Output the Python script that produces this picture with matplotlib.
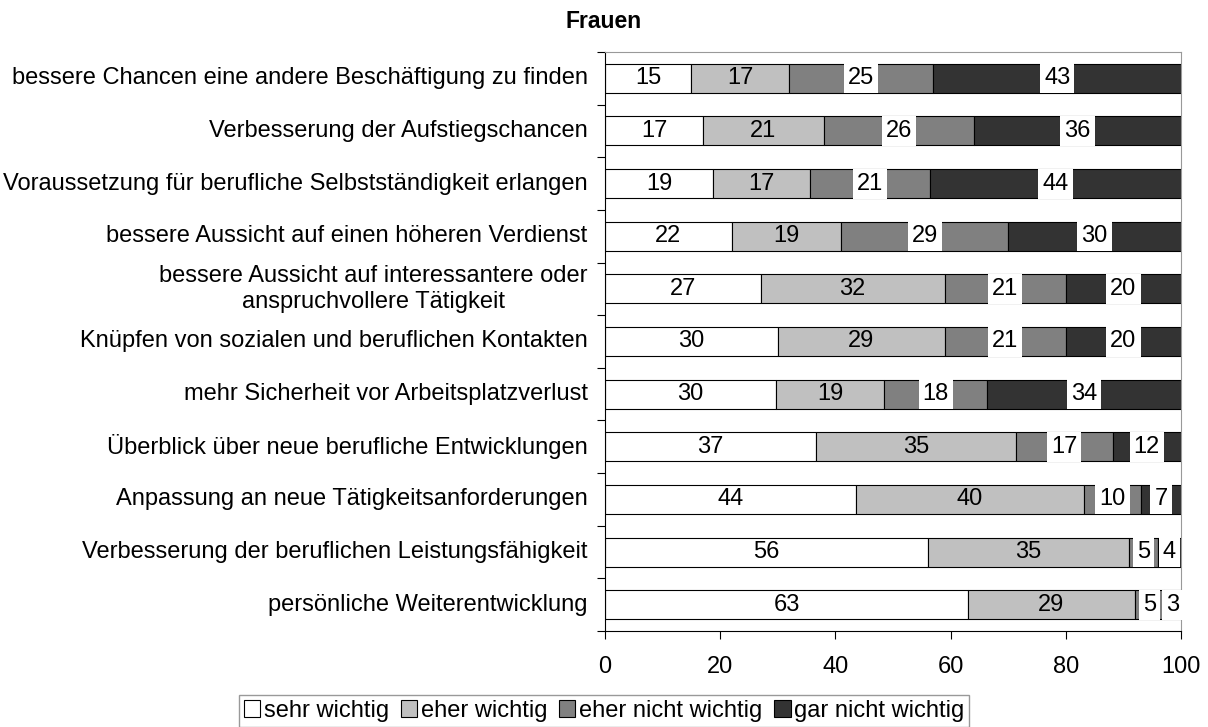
import numpy as np
import matplotlib
matplotlib.use("Agg")
import matplotlib.pyplot as plt

plt.rcParams["font.family"] = ["Liberation Sans", "DejaVu Sans"]

# Daten
kategorien = [
    "bessere Chancen eine andere Beschäftigung zu finden",
    "Verbesserung der Aufstiegschancen",
    "Voraussetzung für berufliche Selbstständigkeit erlangen",
    "bessere Aussicht auf einen höheren Verdienst",
    "bessere Aussicht auf interessantere oder\nanspruchvollere Tätigkeit",
    "Knüpfen von sozialen und beruflichen Kontakten",
    "mehr Sicherheit vor Arbeitsplatzverlust",
    "Überblick über neue berufliche Entwicklungen",
    "Anpassung an neue Tätigkeitsanforderungen",
    "Verbesserung der beruflichen Leistungsfähigkeit",
    "persönliche Weiterentwicklung",
]
sehr_wichtig = [15, 17, 19, 22, 27, 30, 30, 37, 44, 56, 63]
eher_wichtig = [17, 21, 17, 19, 32, 29, 19, 35, 40, 35, 29]
eher_nicht_wichtig = [25, 26, 21, 29, 21, 21, 18, 17, 10, 5, 5]
gar_nicht_wichtig = [43, 36, 44, 30, 20, 20, 34, 12, 7, 4, 3]

serien = ["sehr wichtig", "eher wichtig", "eher nicht wichtig", "gar nicht wichtig"]
farben = ["#FFFFFF", "#C0C0C0", "#808080", "#333333"]

werte = np.array([sehr_wichtig, eher_wichtig, eher_nicht_wichtig, gar_nicht_wichtig], dtype=float)
anteile = werte / werte.sum(axis=0) * 100  # 100%-Balken

fs = 17

fig = plt.figure(figsize=(12.08, 7.27), dpi=100)
ax = fig.add_axes([605 / 1208, 1 - 631 / 727, 576 / 1208, 579 / 727])

y = np.arange(len(kategorien))
links = np.zeros(len(kategorien))
for i, (name, farbe) in enumerate(zip(serien, farben)):
    ax.barh(y, anteile[i], left=links, height=0.55, color=farbe,
            edgecolor="black", linewidth=0.8, label=name)
    for j in range(len(kategorien)):
        xm = links[j] + anteile[i][j] / 2
        if i < 2:
            ax.text(xm, y[j], "%d" % werte[i][j], ha="center", va="center", fontsize=fs)
        else:
            ax.text(xm, y[j], "%d" % werte[i][j], ha="center", va="center", fontsize=fs,
                    bbox=dict(boxstyle="square,pad=0.17", fc="white", ec="none"))
    links += anteile[i]

ax.set_xlim(0, 100)
ax.set_ylim(len(kategorien) - 0.5, -0.5)
ax.set_xticks(np.arange(0, 101, 20))
ax.tick_params(axis="x", labelsize=fs, length=6, direction="out", pad=12)
ax.set_yticks(np.arange(len(kategorien) + 1) - 0.5)
ax.set_yticklabels([])
ax.tick_params(axis="y", length=6, direction="out")

for s in ["top", "right"]:
    ax.spines[s].set_color("#999999")
for s in ["left", "bottom"]:
    ax.spines[s].set_color("black")

# Kategorien-Beschriftung
for j, kat in enumerate(kategorien):
    ax.text(-0.03, j, kat, transform=ax.get_yaxis_transform(), ha="right", va="center",
            multialignment="center", fontsize=fs)

fig.text(0.5, 1 - 22 / 727, "Frauen", ha="center", va="center", fontsize=16.5, fontweight="bold")

leg = fig.legend(loc="center", bbox_to_anchor=(0.5, 1 - 711 / 727), ncol=4, fontsize=fs,
                 frameon=True, fancybox=False, handlelength=0.7, handleheight=0.7,
                 handletextpad=0.15, columnspacing=0.5, borderpad=0.2, borderaxespad=0)
leg.get_frame().set_edgecolor("#808080")
leg.get_frame().set_linewidth(1.0)

fig.savefig("out.png", dpi=100)
